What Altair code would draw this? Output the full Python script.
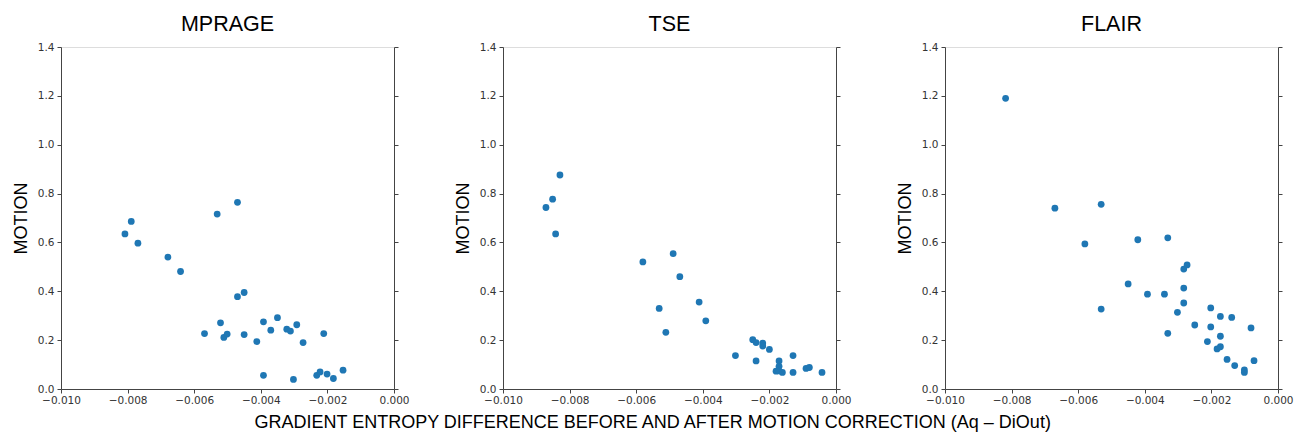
import altair as alt
import pandas as pd

# ---- data ----
mprage_x = [-0.00808, -0.00789, -0.00769, -0.00679, -0.00641, -0.00569, -0.00531, -0.00521,
            -0.00511, -0.00501, -0.00470, -0.00470, -0.00450, -0.00450, -0.00412, -0.00392,
            -0.00392, -0.00370, -0.00350, -0.00322, -0.00311, -0.00302, -0.00292, -0.00273,
            -0.00232, -0.00222, -0.00211, -0.00201, -0.00182, -0.00153]
mprage_y = [0.635, 0.686, 0.597, 0.540, 0.481, 0.227, 0.716, 0.271,
            0.211, 0.225, 0.764, 0.378, 0.395, 0.223, 0.194, 0.275,
            0.056, 0.241, 0.292, 0.245, 0.237, 0.039, 0.263, 0.190,
            0.056, 0.070, 0.227, 0.061, 0.043, 0.077]

tse_x = [-0.00871, -0.00851, -0.00842, -0.00829, -0.00580, -0.00531, -0.00511, -0.00489,
         -0.00469, -0.00411, -0.00391, -0.00302, -0.00250, -0.00240, -0.00240, -0.00220,
         -0.00220, -0.00200, -0.00180, -0.00171, -0.00171, -0.00171, -0.00161, -0.00129,
         -0.00129, -0.00090, -0.00080, -0.00042]
tse_y = [0.743, 0.777, 0.635, 0.876, 0.520, 0.330, 0.232, 0.554,
         0.460, 0.356, 0.279, 0.137, 0.202, 0.190, 0.115, 0.188,
         0.176, 0.162, 0.073, 0.115, 0.093, 0.074, 0.068, 0.137,
         0.068, 0.084, 0.088, 0.068]

flair_x = [-0.00818, -0.00670, -0.00580, -0.00531, -0.00531, -0.00450, -0.00421, -0.00392,
           -0.00341, -0.00331, -0.00331, -0.00302, -0.00283, -0.00273, -0.00283, -0.00283,
           -0.00250, -0.00212, -0.00202, -0.00202, -0.00183, -0.00173, -0.00173, -0.00173,
           -0.00153, -0.00139, -0.00130, -0.00101, -0.00101, -0.00081, -0.00072]
flair_y = [1.190, 0.740, 0.594, 0.756, 0.327, 0.430, 0.611, 0.388,
           0.388, 0.619, 0.228, 0.314, 0.491, 0.508, 0.413, 0.352,
           0.262, 0.194, 0.332, 0.254, 0.164, 0.297, 0.216, 0.173,
           0.121, 0.293, 0.096, 0.078, 0.068, 0.250, 0.116]

panel_titles = ["MPRAGE", "TSE", "FLAIR"]
x_ticks = [-0.010, -0.008, -0.006, -0.004, -0.002, 0.000]
y_ticks = [0.0, 0.2, 0.4, 0.6, 0.8, 1.0, 1.2, 1.4]
y_title = "MOTION"
x_title = "GRADIENT ENTROPY DIFFERENCE BEFORE AND AFTER MOTION CORRECTION (Aq \u2013 DiOut)"

LABEL_FONT = "DejaVu Sans"
TITLE_FONT = "Liberation Sans"
AXIS_COLOR = "#444444"
W, H = 333, 342


def panel(title, xs, ys):
    df = pd.DataFrame({"x": xs, "y": ys})
    base = alt.Chart(df)
    xenc = alt.X(
        "x:Q",
        scale=alt.Scale(domain=[-0.010, 0.0], nice=False, zero=False),
        axis=alt.Axis(values=x_ticks, format=".3f", title=None, grid=False,
                      labelFont=LABEL_FONT, labelFontSize=10.5, labelColor="#333333",
                      domainColor=AXIS_COLOR, tickColor=AXIS_COLOR, tickSize=4,
                      labelPadding=2, labelFlush=False),
    )
    yscale = alt.Scale(domain=[0, 1.4], nice=False, zero=True)
    pts = base.mark_circle(size=46, color="#1f77b4", opacity=1).encode(
        x=xenc,
        y=alt.Y("y:Q", scale=yscale,
                axis=alt.Axis(values=y_ticks, format=".1f", title=y_title, grid=False,
                              labelFont=LABEL_FONT, labelFontSize=10.5, labelColor="#333333",
                              domainColor=AXIS_COLOR, tickColor=AXIS_COLOR, tickSize=4,
                              labelPadding=3, labelFlush=False,
                              titleFont=TITLE_FONT, titleFontSize=18,
                              titleFontWeight="normal", titleColor="black",
                              titlePadding=7)),
    )
    right = base.mark_circle(size=46, opacity=0).encode(
        x=xenc,
        y=alt.Y("y:Q", scale=yscale,
                axis=alt.Axis(orient="right", values=y_ticks, labels=False, title=None,
                              grid=False, domainColor=AXIS_COLOR, tickColor=AXIS_COLOR,
                              tickSize=4)),
    )
    return alt.layer(pts, right).resolve_axis(y="independent").properties(
        width=W, height=H,
        title=alt.TitleParams(title, font=TITLE_FONT, fontSize=21.5, fontWeight="normal",
                              color="black", anchor="middle", offset=7),
    )


chart = alt.hconcat(
    panel(panel_titles[0], mprage_x, mprage_y),
    panel(panel_titles[1], tse_x, tse_y),
    panel(panel_titles[2], flair_x, flair_y),
    spacing=109,
    bounds="flush",
).properties(
    title=alt.TitleParams(x_title, orient="bottom", anchor="middle", font=TITLE_FONT,
                          fontSize=18, fontWeight="normal", color="black", offset=8),
    padding={"left": 3, "right": 0, "top": 5, "bottom": 0},
).configure_view(stroke=None).configure(background="white")

chart.save("out.html", embed_options={"renderer": "svg", "actions": False})
